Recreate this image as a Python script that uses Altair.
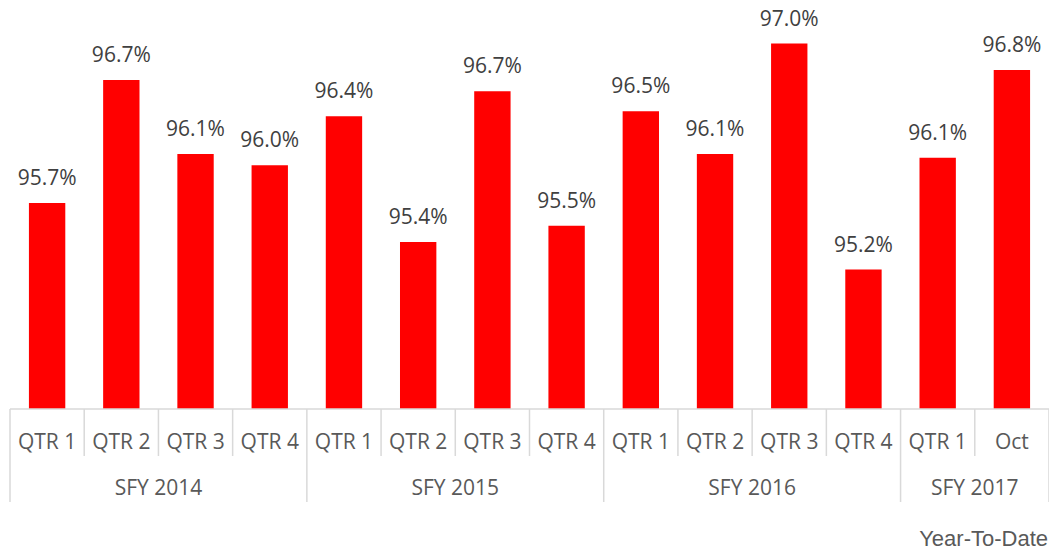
import altair as alt
import pandas as pd

# Data
quarters = ["QTR 1", "QTR 2", "QTR 3", "QTR 4",
            "QTR 1", "QTR 2", "QTR 3", "QTR 4",
            "QTR 1", "QTR 2", "QTR 3", "QTR 4",
            "QTR 1", "Oct"]
years = ["SFY 2014"] * 4 + ["SFY 2015"] * 4 + ["SFY 2016"] * 4 + ["SFY 2017"] * 2
values = [95.73, 96.71, 96.12, 96.03, 96.42, 95.42, 96.62,
          95.55, 96.46, 96.12, 97.00, 95.20, 96.09, 96.79]
labels = ["95.7%", "96.7%", "96.1%", "96.0%", "96.4%", "95.4%", "96.7%",
          "95.5%", "96.5%", "96.1%", "97.0%", "95.2%", "96.1%", "96.8%"]
y_min, y_max = 94.09, 97.211

n = len(values)
bars = pd.DataFrame({
    "idx": list(range(n)),
    "quarter": quarters,
    "year": years,
    "value": values,
    "label": labels,
})
bars["start"] = bars["idx"] + 0.255
bars["end"] = bars["idx"] + 0.745
bars["mid"] = bars["idx"] + 0.5

# year groups
groups = []
for i, y in enumerate(years):
    if not groups or groups[-1]["year"] != y:
        groups.append({"year": y, "first": i, "last": i + 1})
    else:
        groups[-1]["last"] = i + 1
grp = pd.DataFrame(groups)
grp["mid"] = (grp["first"] + grp["last"]) / 2

long_pos = sorted(set([g["first"] for g in groups] + [groups[-1]["last"]]))
seps = pd.DataFrame({"pos": list(range(n + 1))})
seps["long"] = seps["pos"].isin(long_pos)

W, H = 1039, 393
xs = alt.Scale(domain=[0, n], nice=False, zero=False)
ys = alt.Scale(domain=[y_min, y_max + 0.008], nice=False, zero=False)
grid_col = "#d9d9d9"

bar_layer = alt.Chart(bars).mark_bar(color="#ff0000").encode(
    x=alt.X("start:Q", scale=xs, axis=None),
    x2="end:Q",
    y=alt.Y("value:Q", scale=ys, axis=None),
    y2=alt.value(H),
)

label_layer = alt.Chart(bars).mark_text(
    font="Open Sans", fontSize=21, color="#404040", baseline="alphabetic", dy=-18
).encode(
    x=alt.X("mid:Q", scale=xs),
    y=alt.Y("value:Q", scale=ys),
    text="label:N",
)

axis_line = alt.Chart(pd.DataFrame({"a": [0], "b": [n]})).mark_rule(
    color=grid_col, strokeWidth=1.5
).encode(
    x=alt.X("a:Q", scale=xs), x2="b:Q", y=alt.value(H)
)

short_ticks = alt.Chart(seps[~seps["long"]]).mark_rule(
    color=grid_col, strokeWidth=1.5
).encode(
    x=alt.X("pos:Q", scale=xs), y=alt.value(H), y2=alt.value(440)
)

long_ticks = alt.Chart(seps[seps["long"]]).mark_rule(
    color=grid_col, strokeWidth=1.5
).encode(
    x=alt.X("pos:Q", scale=xs), y=alt.value(H), y2=alt.value(486)
)

q_text = alt.Chart(bars).mark_text(
    font="Open Sans", fontSize=21, color="#595959", baseline="alphabetic"
).encode(
    x=alt.X("mid:Q", scale=xs), y=alt.value(433), text="quarter:N"
)

y_text = alt.Chart(grp).mark_text(
    font="Open Sans", fontSize=21, color="#595959", baseline="alphabetic"
).encode(
    x=alt.X("mid:Q", scale=xs), y=alt.value(479), text="year:N"
)

ytd = alt.Chart(pd.DataFrame({"t": ["Year-To-Date"]})).mark_text(
    font="Liberation Sans", fontSize=22, color="#595959",
    baseline="alphabetic", align="right"
).encode(
    x=alt.value(1038), y=alt.value(530), text="t:N"
)

chart = alt.layer(
    bar_layer, axis_line, short_ticks, long_ticks,
    label_layer, q_text, y_text, ytd
).properties(
    width=W, height=H,
    autosize=alt.AutoSizeParams(type="none"),
    padding={"left": 2, "top": 8, "right": 0, "bottom": 137},
).configure_view(stroke=None)

chart.save("out.html", embed_options={"renderer": "svg", "actions": False})
